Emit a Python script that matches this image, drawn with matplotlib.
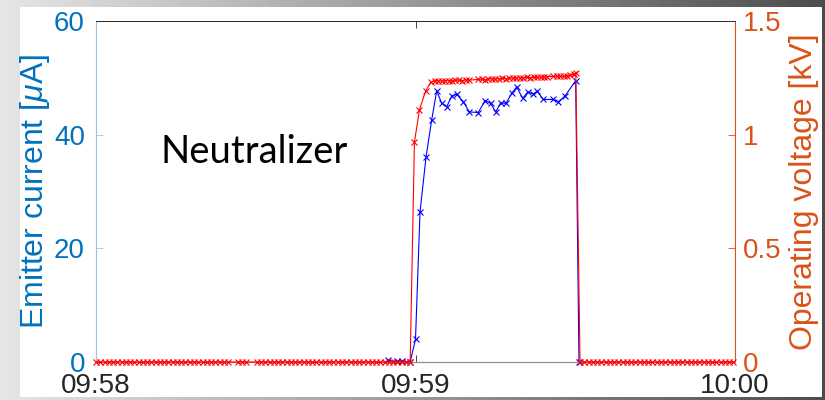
import numpy as np
import matplotlib
matplotlib.use("Agg")
import matplotlib.pyplot as plt
from matplotlib.patches import Rectangle

# ---- data (time in seconds after 09:58:00) ----
time_ticks = [0, 60, 120]
time_labels = ["09:58", "09:59", "10:00"]

current_t = [54.9, 56.5, 57.4, 59.0, 60.0, 60.85, 61.97, 63.04, 63.98, 64.92,
             65.86, 66.80, 67.74, 68.98, 70.10, 71.79, 73.05, 74.12, 75.06,
             76.0, 77.0, 78.07, 79.0, 80.13, 81.07, 82.12, 82.87, 84.0, 85.77,
             86.82, 88.08, 90.08, 90.7]
current_uA = [0.3, 0.1, 0.2, 0.0, 4.0, 26.4, 36.0, 42.6, 47.7, 45.5,
              44.9, 46.8, 47.1, 45.8, 44.0, 43.9, 46.0, 45.5, 44.0,
              45.6, 45.5, 47.3, 48.4, 46.4, 47.5, 47.2, 47.6, 46.2, 46.2,
              45.8, 46.8, 49.5, 0.0]

volt_off_before_t = [0.0, 0.8, 1.6, 2.4, 3.2, 4.0, 4.8, 5.6, 6.4, 7.2, 8.0, 8.8,
                     9.6, 10.4, 11.2, 12.0, 12.8, 13.6, 14.4, 15.2, 16.0, 16.8,
                     17.6, 18.4, 19.2, 20.0, 20.8, 21.6, 22.4, 23.2, 24.0, 24.8,
                     26.6, 27.4, 28.2, 30.2, 31.0, 31.8, 32.6, 33.4, 34.2, 35.0,
                     35.8, 36.6, 37.4, 38.2, 39.0, 39.8, 40.6, 41.4, 42.2, 43.0,
                     43.8, 44.6, 45.4, 46.2, 47.0, 47.8, 48.6, 49.4, 50.2, 51.0,
                     51.8, 52.6, 53.4, 54.2, 55.0, 55.8, 56.6, 57.4, 58.2, 59.0]
volt_on_t = [59.8, 60.75, 61.9, 62.9,
             63.6, 64.2, 64.9, 65.5, 66.2, 66.8, 67.5, 68.1, 68.8, 69.4, 70.1,
             71.8, 72.4, 73.1, 73.7, 74.4, 75.0, 75.7, 76.3, 77.0, 77.6, 78.3,
             78.9, 79.6, 80.2, 80.9, 81.5, 82.2, 82.8, 83.5, 84.1, 84.7,
             85.9, 86.5, 87.2, 87.8, 88.5, 89.1, 89.7, 90.1]
volt_on_kV = [0.968, 1.109, 1.192, 1.232,
              1.236, 1.238, 1.235, 1.237, 1.238, 1.236, 1.239, 1.240, 1.238, 1.241, 1.240,
              1.243, 1.244, 1.242, 1.245, 1.246, 1.244, 1.247, 1.248, 1.246, 1.249, 1.250,
              1.248, 1.251, 1.250, 1.252, 1.251, 1.253, 1.252, 1.254, 1.253, 1.255,
              1.256, 1.257, 1.258, 1.256, 1.260, 1.262, 1.265, 1.270]
volt_off_after_t = [90.9, 91.7, 92.5, 93.3, 94.1, 94.9, 95.7, 96.5, 97.3, 98.1,
                    98.9, 99.7, 100.5, 101.3, 102.1, 102.9, 103.7, 104.5, 105.3,
                    106.1, 106.9, 107.7, 108.5, 109.3, 110.1, 110.9, 111.7, 112.5,
                    113.3, 114.1, 114.9, 115.7, 116.5, 117.3, 118.1, 118.9, 119.7]

volt_t = volt_off_before_t + volt_on_t + volt_off_after_t
volt_kV = [0.0] * len(volt_off_before_t) + volt_on_kV + [0.0] * len(volt_off_after_t)

# ---- styling ----
BLUE_AX = "#0072BD"
ORANGE_AX = "#D95319"
TEXT_GRAY = "#262626"
plt.rcParams["font.family"] = ["Liberation Sans", "DejaVu Sans"]
plt.rcParams["mathtext.fontset"] = "custom"
plt.rcParams["mathtext.it"] = "Liberation Sans:italic"

W, H = 825, 400
fig = plt.figure(figsize=(W / 100, H / 100), dpi=100)

# slide-style gray frame behind a white panel
bg = fig.add_axes([0, 0, 1, 1], zorder=-10)
grad = np.linspace(0.90, 0.30, 256)[None, :]
bg.imshow(grad, extent=[0, 1, 0, 1], aspect="auto", cmap="gray", vmin=0, vmax=1)
bg.add_patch(Rectangle((20 / W, (H - 397) / H), (822 - 20) / W, (397 - 7) / H,
                       facecolor="white", edgecolor="none"))
bg.set_xlim(0, 1)
bg.set_ylim(0, 1)
bg.axis("off")

ax = fig.add_axes([96 / W, (H - 362) / H, (735 - 96) / W, (362 - 21) / H], zorder=1)
ax2 = ax.twinx()
ax.set_facecolor("white")

ax.plot(current_t, current_uA, color="#0000FF", lw=0.8, marker="x", ms=4.5,
        mew=0.8, clip_on=False, zorder=3)
ax2.plot(volt_t, volt_kV, color="#FF0000", lw=0.8, marker="x", ms=4.5,
         mew=0.8, clip_on=False, zorder=3)

ax.set_xlim(0, 120)
ax.set_ylim(0, 60)
ax2.set_ylim(0, 1.5)

ax.set_xticks(time_ticks)
ax.set_xticklabels(time_labels)
ax.set_yticks([0, 20, 40, 60])
ax2.set_yticks([0, 0.5, 1, 1.5])
ax2.set_yticklabels(["0", "0.5", "1", "1.5"])

ax.tick_params(axis="x", direction="in", length=5, width=0.6, colors=TEXT_GRAY,
               labelsize=20, pad=8, top=True)
ax.tick_params(axis="y", direction="in", length=5, width=0.6, color="#9cc3e5",
               labelcolor=BLUE_AX, labelsize=20, pad=8)
ax2.tick_params(axis="y", direction="in", length=5, width=0.6, color=ORANGE_AX,
                labelcolor=ORANGE_AX, labelsize=20, pad=6)

for a in (ax, ax2):
    a.spines["top"].set_color(TEXT_GRAY)
    a.spines["top"].set_linewidth(0.6)
    a.spines["bottom"].set_color("#8c8c8c")
    a.spines["bottom"].set_linewidth(0.8)
ax.spines["left"].set_color("#9cc3e5")
ax.spines["left"].set_linewidth(0.8)
ax2.spines["left"].set_visible(False)
ax.spines["right"].set_visible(False)
ax2.spines["right"].set_color(ORANGE_AX)
ax2.spines["right"].set_linewidth(0.8)

ax.set_ylabel(r"Emitter current [$\mu$A]", color=BLUE_AX, fontsize=23)
ax.yaxis.set_label_coords(-0.069, 0.5)
ax2.set_ylabel("Operating voltage [kV]", color=ORANGE_AX, fontsize=23)
ax2.yaxis.set_label_coords(1.085, 0.5)

fig.text(160 / W, (H - 163) / H, "Neutralizer", fontsize=27.5, color="black",
         family=["Lato", "DejaVu Sans"], ha="left", va="baseline")

fig.savefig("out.png", dpi=100)
